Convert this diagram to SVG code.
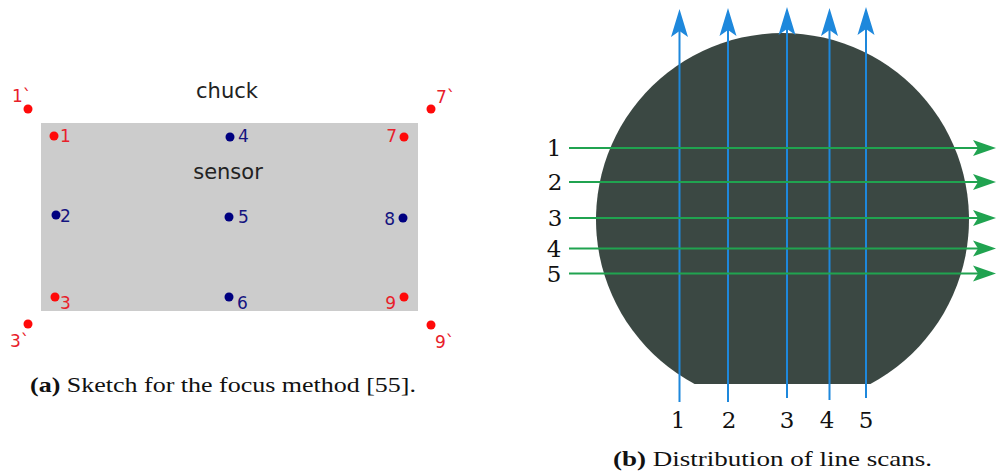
<svg xmlns="http://www.w3.org/2000/svg" width="996" height="475" viewBox="0 0 996 475">
<style>
.lbl{font-family:"DejaVu Sans",sans-serif;font-size:17px}
.red{fill:#e8202a}
.blue{fill:#141480}
.rd{fill:#ff0a0a}
.bd{fill:#000080}
.big{font-family:"DejaVu Sans",sans-serif;font-size:21px;fill:#222}
.num{font-family:"DejaVu Serif","Liberation Serif",serif;font-size:23px;fill:#111}
.cap{font-family:"Liberation Serif","DejaVu Serif",serif;font-size:21px;fill:#111}
.vline{stroke:#1e88dc;stroke-width:2;fill:none}
.hline{stroke:#20a350;stroke-width:2;fill:none}
</style>
<defs>
<marker id="ab" markerUnits="userSpaceOnUse" markerWidth="40" markerHeight="40" refX="0" refY="0" orient="auto" overflow="visible">
<path d="M22,0 L-6,-8.5 L0,0 L-6,8.5 Z" fill="#1e88dc"/>
</marker>
<marker id="ag" markerUnits="userSpaceOnUse" markerWidth="40" markerHeight="40" refX="0" refY="0" orient="auto" overflow="visible">
<path d="M18,0 L-5,-8 L0,0 L-5,8 Z" fill="#20a350"/>
</marker>
</defs>
<rect width="996" height="475" fill="#fff"/>

<g id="panel-a">
<g id="chuck"><text class="big" x="227" y="98" text-anchor="middle">chuck</text></g>
<g id="sensor">
<rect x="41" y="123" width="377" height="188" fill="#cccccc"/>
<text class="big" x="228" y="179" text-anchor="middle">sensor</text>
</g>
<g id="p1p"><circle class="rd" cx="28" cy="109" r="4.5"/><text class="lbl red" x="12" y="102">1`</text></g>
<g id="p7p"><circle class="rd" cx="431" cy="109" r="4.5"/><text class="lbl red" x="436" y="103">7`</text></g>
<g id="p3p"><circle class="rd" cx="28" cy="324" r="4.5"/><text class="lbl red" x="10" y="347">3`</text></g>
<g id="p9p"><circle class="rd" cx="431" cy="325" r="4.5"/><text class="lbl red" x="435" y="348">9`</text></g>
<g id="p1"><circle class="rd" cx="54" cy="136" r="4.5"/><text class="lbl red" x="60" y="142">1</text></g>
<g id="p4"><circle class="bd" cx="230" cy="137" r="4.5"/><text class="lbl blue" x="238" y="142">4</text></g>
<g id="p7"><circle class="rd" cx="404" cy="137" r="4.5"/><text class="lbl red" x="397" y="142" text-anchor="end">7</text></g>
<g id="p2"><circle class="bd" cx="56" cy="215" r="4.5"/><text class="lbl blue" x="60" y="222">2</text></g>
<g id="p5"><circle class="bd" cx="229" cy="217" r="4.5"/><text class="lbl blue" x="238" y="223">5</text></g>
<g id="p8"><circle class="bd" cx="403" cy="218" r="4.5"/><text class="lbl blue" x="395" y="225" text-anchor="end">8</text></g>
<g id="p3"><circle class="rd" cx="55" cy="297" r="4.5"/><text class="lbl red" x="60" y="309">3</text></g>
<g id="p6"><circle class="bd" cx="229" cy="297" r="4.5"/><text class="lbl blue" x="237" y="309">6</text></g>
<g id="p9"><circle class="rd" cx="404" cy="297" r="4.5"/><text class="lbl red" x="396" y="309" text-anchor="end">9</text></g>
<g id="caption-a"><text class="cap" x="30" y="392" textLength="386" lengthAdjust="spacingAndGlyphs"><tspan font-weight="bold">(a)</tspan> Sketch for the focus method [55].</text></g>
</g>

<g id="panel-b">
<g id="wafer"><path d="M694.6,384 A186.5,186.5 0 1 1 870.4,384 Z" fill="#3b4843"/></g>
<g id="connectors">
<line class="vline" x1="679.5" y1="402" x2="679.5" y2="31" marker-end="url(#ab)"/>
<line class="vline" x1="728" y1="402" x2="728" y2="30" marker-end="url(#ab)"/>
<line class="vline" x1="787" y1="398" x2="787" y2="29" marker-end="url(#ab)"/>
<line class="vline" x1="829.5" y1="400" x2="829.5" y2="30" marker-end="url(#ab)"/>
<line class="vline" x1="866" y1="398" x2="866" y2="29" marker-end="url(#ab)"/>
<line class="hline" x1="569" y1="148" x2="978" y2="148" marker-end="url(#ag)"/>
<line class="hline" x1="569" y1="182" x2="978" y2="182" marker-end="url(#ag)"/>
<line class="hline" x1="569" y1="218" x2="978" y2="218" marker-end="url(#ag)"/>
<line class="hline" x1="569" y1="248.5" x2="978" y2="248.5" marker-end="url(#ag)"/>
<line class="hline" x1="569" y1="273.5" x2="978" y2="273.5" marker-end="url(#ag)"/>
</g>
<g id="row-labels">
<text class="num" x="554" y="156" text-anchor="middle">1</text>
<text class="num" x="555" y="190" text-anchor="middle">2</text>
<text class="num" x="555" y="226" text-anchor="middle">3</text>
<text class="num" x="554" y="257" text-anchor="middle">4</text>
<text class="num" x="554" y="282" text-anchor="middle">5</text>
</g>
<g id="col-labels">
<text class="num" x="678" y="428" text-anchor="middle">1</text>
<text class="num" x="729" y="428" text-anchor="middle">2</text>
<text class="num" x="787" y="428" text-anchor="middle">3</text>
<text class="num" x="827" y="428" text-anchor="middle">4</text>
<text class="num" x="866" y="428" text-anchor="middle">5</text>
</g>
<g id="caption-b"><text class="cap" x="613" y="466" textLength="319" lengthAdjust="spacingAndGlyphs"><tspan font-weight="bold">(b)</tspan> Distribution of line scans.</text></g>
</g>
</svg>
